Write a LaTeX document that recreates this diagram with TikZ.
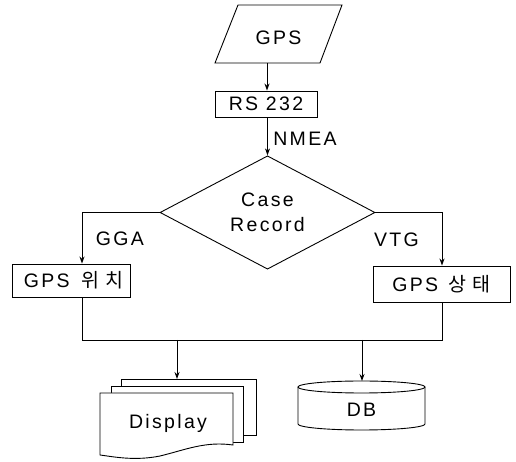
\documentclass[tikz,border=0pt]{standalone}
\usepackage{fontspec}
\setmainfont{Liberation Sans}[LetterSpace=12]
\newfontfamily\kr{Noto Sans CJK KR}[LetterSpace=30]
\usetikzlibrary{shapes.geometric,arrows.meta}
\begin{document}
\begin{tikzpicture}[x=1pt,y=1pt,
  line width=0.9pt,
  every node/.style={font=\fontsize{19.5}{25}\selectfont, inner sep=0pt},
  box/.style={draw, rectangle},
  flow/.style={-{Stealth[length=7pt,width=5pt]}}]
\useasboundingbox (0,0) rectangle (516,462);

% GPS input (parallelogram)
\draw (215,399) -- (320,399) -- (342,457) -- (238,457) -- cycle;
\node (gps) at (278.5,424) {GPS};
\coordinate (gpsbot) at (267,399);

% serial port
\node[box, minimum width=102pt, minimum height=26pt] (rs) at (266,358) {RS 232};
\node (nmea) at (305,323) {NMEA};

% decision
\node[diamond, draw, minimum width=215pt, minimum height=75pt, align=center] (case) at (267.5,249.5) {Case\\Record};

% branch boxes
\node[box, minimum width=118pt, minimum height=33pt] (pos) at (71,181.5) {\hspace{5pt}GPS\hspace{4pt} {\kr 위치}};
\node[box, minimum width=137pt, minimum height=36pt] (stat) at (441.5,178) {GPS\hspace{3pt} {\kr 상태}};
\node (gga) at (120,223.5) {GGA};
\node (vtg) at (396.5,222) {VTG};

% stacked documents
\draw (121,76) -- (121,83) -- (256,83) -- (256,27) -- (243,27);
\draw (111,69) -- (111,76) -- (243,76) -- (243,20) -- (233,20);
\draw[fill=white] (100,69) -- (233,69) -- (233,17)
  .. controls (205,21) and (185,12) .. (160,6)
  .. controls (135,1) and (115,5) .. (100,7) -- cycle;
\node (disp) at (168,39) {Display};
\coordinate (disptop) at (177,83);

% database cylinder
\draw (298,75) -- (298,38) arc[start angle=180,end angle=360,x radius=63.5,y radius=6] -- (425,75);
\draw (361.5,75) ellipse[x radius=63.5,y radius=6];
\node (db) at (361.5,52) {DB};
\coordinate (dbtop) at (362,81);

% merge line
\coordinate (mleft) at (82,122);
\coordinate (mright) at (442,122);

% connectors
\draw[flow] (gpsbot) -- (gpsbot |- rs.north);
\draw[flow] (rs.south -| case.north) -- (case.north);
\draw[flow] (case.west) -| (pos.north -| mleft);
\draw[flow] (case.east) -| (stat.north -| mright);
\draw (pos.south -| mleft) -- (mleft) -- (mright) -- (stat.south -| mright);
\draw[flow] (mleft -| disptop) -- (disptop);
\draw[flow] (mleft -| dbtop) -- (dbtop);
\end{tikzpicture}
\end{document}
